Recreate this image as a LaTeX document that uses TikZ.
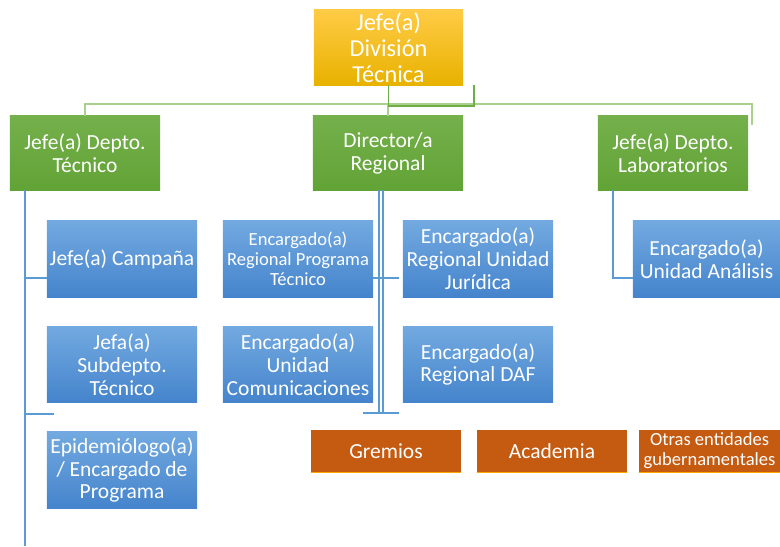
\documentclass[tikz,border=0pt]{standalone}
\usepackage{fontspec}
\setmainfont{Carlito}
\definecolor{goldtop}{HTML}{FFCB45}
\definecolor{goldmid}{HTML}{FFC000}
\definecolor{goldbot}{HTML}{E8B200}
\definecolor{greentop}{HTML}{74B04B}
\definecolor{greenbot}{HTML}{62A336}
\definecolor{bluetop}{HTML}{72A9E0}
\definecolor{bluemid}{HTML}{5598DA}
\definecolor{bluebot}{HTML}{4584CC}
\definecolor{rust}{HTML}{C55A11}
\definecolor{lightgreen}{HTML}{A9D18E}
\definecolor{darkgreen}{HTML}{70AD47}
\definecolor{lineblue}{HTML}{5B9BD5}
\tikzset{
  box/.style={minimum width=3.75cm, minimum height=1.9cm, inner sep=0pt,
    align=center, text=white, font=\fontsize{15.3}{16.3}\selectfont},
  jefebox/.style={box, minimum width=3.725cm, minimum height=1.875cm,
    top color=goldtop, middle color=goldmid, bottom color=goldbot,
    font=\fontsize{17.3}{18.4}\selectfont},
  deptobox/.style={box, minimum height=1.85cm, top color=greentop, bottom color=greenbot},
  unitbox/.style={box, top color=bluetop, middle color=bluemid, bottom color=bluebot},
  extbox/.style={box, minimum height=1.05cm, fill=rust},
  small/.style={font=\fontsize{13.2}{14.2}\selectfont},
  tree/.style={lineblue, line width=0.9pt}
}
\begin{document}
\begin{tikzpicture}[x=0.025cm, y=-0.025cm]
    \useasboundingbox (0,0) rectangle (780,546);
    % jefatura
    \node[jefebox] (jefe) at (388.5,47.5) {Jefe(a)\\División\\Técnica};
    % departamentos
    \node[deptobox] (tec) at (85,153) {Jefe(a) Depto.\\Técnico};
    \node[deptobox] (reg) at (388,153) {Director/a\\Regional};
    \node[deptobox] (lab) at (673,153) {Jefe(a) Depto.\\Laboratorios};
    % unidades
    \node[unitbox] (camp) at (122,259) {Jefe(a) Campaña};
    \node[unitbox] (sub) at (122,364.5) {Jefa(a)\\Subdepto.\\Técnico};
    \node[unitbox] (epi) at (122,470) {Epidemiólogo(a)\\/ Encargado de\\Programa};
    \node[unitbox, small] (prog) at (298,259) {Encargado(a)\\Regional Programa\\Técnico};
    \node[unitbox] (jur) at (478,259) {Encargado(a)\\Regional Unidad\\Jurídica};
    \node[unitbox] (com) at (298,364.5) {Encargado(a)\\Unidad\\Comunicaciones};
    \node[unitbox] (daf) at (478,364.5) {Encargado(a)\\Regional DAF};
    \node[unitbox, minimum width=3.675cm] (ana) at (706.5,259) {Encargado(a)\\Unidad Análisis};
    % entidades externas
    \node[extbox] (grem) at (386,451) {Gremios};
    \node[extbox] (acad) at (552,451) {Academia};
    \node[extbox, small, minimum width=3.525cm] (otras) at (709.5,451) {Otras entidades\\gubernamentales};
    \foreach \n in {grem,acad,otras}
      \draw[orange!70!yellow, line width=0.8pt] (\n.south west) -- (\n.south east);
    % conectores superiores
    \coordinate (bus) at (85,104);
    \coordinate (busR) at (752,104);
    \coordinate (endR) at (752,125);
    \coordinate (hook) at (474,106);
    \draw[lightgreen, line width=1.1pt] (tec.north) -- (bus) -- (busR) -- (endR);
    \draw[lightgreen, line width=1.1pt] (reg.north) -- (reg.north |- bus);
    \draw[darkgreen, line width=1.1pt] (jefe.south) -- (jefe.south |- hook) -- (hook) -- (hook |- jefe.south);
    % rama izquierda
    \coordinate (lTop) at (25,190);
    \coordinate (lBot) at (25,546);
    \coordinate (lA) at (25,278);
    \coordinate (lB) at (25,414);
    \coordinate (lBend) at (54,414);
    \draw[tree] (lTop) -- (lBot);
    \draw[tree] (lA) -- (camp.west |- lA);
    \draw[tree] (lB) -- (lBend);
    % rama central
    \coordinate (mA) at (379,413);
    \coordinate (mB) at (383,413);
    \coordinate (mC) at (399,278);
    \coordinate (mL) at (363,413);
    \coordinate (mR) at (399,413);
    \draw[tree, line width=0.8pt] (mA |- reg.south) -- (mA);
    \draw[tree, line width=0.8pt] (mB |- reg.south) -- (mB);
    \draw[tree] (prog.east |- mC) -- (mC);
    \draw[tree] (mL) -- (mR);
    % rama derecha
    \coordinate (rT) at (613,190);
    \draw[tree] (rT) |- (ana.west |- mC);
    \end{tikzpicture}
\end{document}
